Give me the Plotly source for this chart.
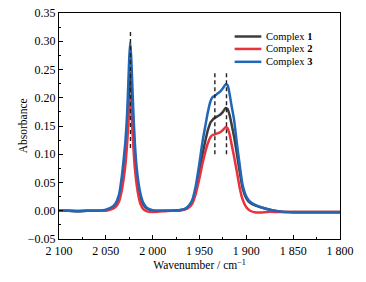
import plotly.graph_objects as go

# Wavenumber grid (cm-1)
wavenumber = [2100, 2090, 2080, 2070, 2060, 2050, 2045, 2040, 2036, 2033, 2031, 2029, 2027.5, 2026,
              2025, 2024, 2023, 2022, 2020.5, 2019, 2017, 2015, 2013, 2010, 2006, 2000, 1990, 1980,
              1972, 1966, 1962, 1958, 1954, 1950, 1947, 1944, 1941, 1938, 1936, 1934, 1931, 1928,
              1925, 1922, 1920, 1918, 1916, 1913, 1910, 1907, 1904, 1900, 1896, 1890, 1884, 1878,
              1870, 1860, 1850, 1840, 1830, 1820, 1810, 1800]

complex1 = [0.000, 0.000, -0.001, 0.000, 0.000, 0.001, 0.004, 0.010, 0.023, 0.050, 0.075, 0.103, 0.137, 0.185,
            0.222, 0.245, 0.226, 0.193, 0.140, 0.098, 0.062, 0.039, 0.024, 0.011, 0.004, 0.000, 0.000, 0.000,
            0.001, 0.003, 0.007, 0.015, 0.036, 0.070, 0.098, 0.122, 0.143, 0.157, 0.161, 0.164, 0.167, 0.170,
            0.175, 0.182, 0.180, 0.170, 0.155, 0.130, 0.100, 0.068, 0.040, 0.022, 0.014, 0.009, 0.006, 0.003,
            0.000, -0.002, -0.002, -0.002, -0.002, -0.002, -0.002, -0.002]

complex2 = [0.000, 0.000, 0.000, 0.000, 0.000, 0.000, 0.002, 0.006, 0.016, 0.036, 0.056, 0.083, 0.113, 0.152,
            0.183, 0.201, 0.184, 0.155, 0.110, 0.075, 0.045, 0.025, 0.012, 0.003, -0.001, -0.002, -0.001, 0.000,
            0.000, 0.002, 0.005, 0.012, 0.030, 0.058, 0.082, 0.103, 0.120, 0.131, 0.134, 0.135, 0.137, 0.139,
            0.143, 0.148, 0.146, 0.136, 0.120, 0.095, 0.068, 0.040, 0.020, 0.006, 0.000, -0.003, -0.003, -0.002,
            -0.002, -0.002, -0.002, -0.002, -0.002, -0.002, -0.002, -0.002]

complex3 = [0.000, 0.000, -0.001, 0.000, 0.000, 0.002, 0.005, 0.012, 0.028, 0.060, 0.090, 0.125, 0.165, 0.225,
            0.270, 0.298, 0.275, 0.235, 0.170, 0.120, 0.075, 0.048, 0.030, 0.014, 0.005, 0.001, 0.000, 0.000,
            0.001, 0.003, 0.008, 0.018, 0.044, 0.085, 0.120, 0.148, 0.175, 0.195, 0.201, 0.203, 0.207, 0.211,
            0.217, 0.224, 0.222, 0.208, 0.188, 0.160, 0.118, 0.080, 0.046, 0.025, 0.016, 0.010, 0.006, 0.003,
            0.000, -0.002, -0.003, -0.003, -0.003, -0.003, -0.003, -0.003]

series_names = ["Complex <b>1</b>", "Complex <b>2</b>", "Complex <b>3</b>"]
series_colors = ["#3d3d3d", "#e8333d", "#2266b8"]

# Dashed marker lines: (wavenumber, low, high)
marker_wn = [2023.7, 1933.6, 1921.2]
marker_low = [0.111, 0.100, 0.100]
marker_high = [0.320, 0.246, 0.246]

x_ticks = [2100, 2050, 2000, 1950, 1900, 1850, 1800]
x_ticktext = ["2 100", "2 050", "2 000", "1 950", "1 900", "1 850", "1 800"]

FONT = "Liberation Serif, DejaVu Serif, serif"

fig = go.Figure()
for name, ys, col in zip(series_names, [complex1, complex2, complex3], series_colors):
    fig.add_trace(go.Scatter(x=wavenumber, y=ys, mode="lines", name=name, showlegend=False,
                             line=dict(color=col, width=2.5, shape="spline", smoothing=0.6)))

for w, lo, hi in zip(marker_wn, marker_low, marker_high):
    fig.add_trace(go.Scatter(x=[w, w], y=[lo, hi], mode="lines", showlegend=False,
                             line=dict(color="#222222", width=1.4, dash="4px,3px")))

# Compact legend (swatch + label) in paper coordinates
leg_x0, leg_x1, leg_tx = 0.625, 0.720, 0.733
leg_rows = [0.896, 0.841, 0.784]
for name, col, yy in zip(series_names, series_colors, leg_rows):
    fig.add_shape(type="line", xref="paper", yref="paper", x0=leg_x0, x1=leg_x1, y0=yy, y1=yy,
                  line=dict(color=col, width=2.5))
    fig.add_annotation(xref="paper", yref="paper", x=leg_tx, y=yy, text=name, showarrow=False,
                       xanchor="left", yanchor="middle", borderpad=0,
                       font=dict(family=FONT, size=10.5, color="black"))

# Y-axis title placed as a rotated annotation
fig.add_annotation(xref="paper", yref="paper", x=-0.127, y=0.5, text="Absorbance", showarrow=False,
                   textangle=-90, xanchor="center", yanchor="middle",
                   font=dict(family=FONT, size=11.5, color="black"))

fig.update_layout(
    width=366, height=282,
    margin=dict(l=59, r=24, t=13, b=42),
    paper_bgcolor="white", plot_bgcolor="white",
    font=dict(family=FONT, size=12, color="black"),
    showlegend=False,
)
fig.update_xaxes(range=[2100, 1800], tickvals=x_ticks, ticktext=x_ticktext, automargin=True,
                 tickfont=dict(family=FONT, size=12, color="black"),
                 showline=True, linecolor="black", linewidth=1.3, mirror=True,
                 ticks="inside", ticklen=4, tickcolor="black", showgrid=False, zeroline=False,
                 minor=dict(dtick=25, tick0=2100, ticks="inside", ticklen=2, tickcolor="black"),
                 title=dict(text="Wavenumber / cm<sup>−1</sup>", standoff=4,
                            font=dict(family=FONT, size=11.5)))
fig.update_yaxes(range=[-0.05, 0.35], dtick=0.05, tick0=0, tickformat=".2f", automargin=False,
                 tickfont=dict(family=FONT, size=12, color="black"),
                 showline=True, linecolor="black", linewidth=1.3, mirror=True,
                 ticks="inside", ticklen=4, tickcolor="black", showgrid=False, zeroline=False,
                 minor=dict(dtick=0.025, ticks="inside", ticklen=2, tickcolor="black"))

fig.write_html("out.html", config={"displayModeBar": False},
               post_script="document.body.style.margin='0';")
